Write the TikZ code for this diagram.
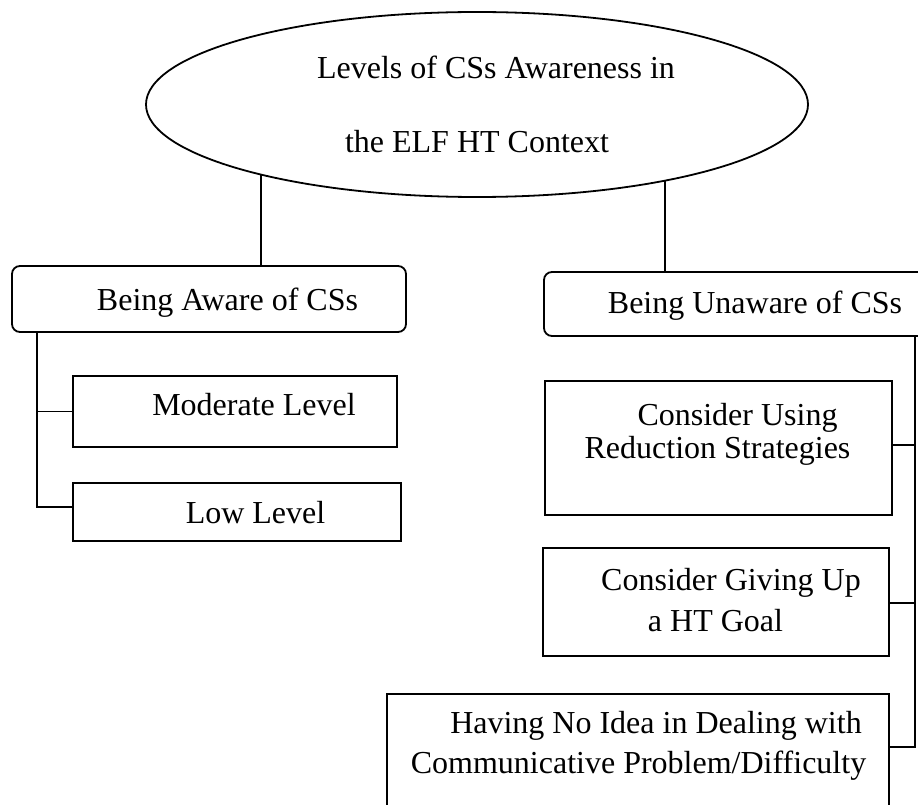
\documentclass[tikz,border=0pt]{standalone}
\usepackage{fontspec}
\setmainfont{Liberation Serif}
\usetikzlibrary{shapes.geometric}
\begin{document}
\begin{tikzpicture}[x=1pt,y=-1pt,
  line width=1.8pt,
  txt/.style={anchor=base,inner sep=0pt,font=\fontsize{32}{33}\selectfont},
  rbox/.style={draw,rectangle,rounded corners=8pt,inner sep=0pt,outer sep=0pt},
  sbox/.style={draw,rectangle,inner sep=0pt,outer sep=0pt},
  conn/.style={draw,line width=1.8pt}]
\clip (0,0) rectangle (918,805);
\fill[white] (0,0) rectangle (918,805);
% top ellipse
\node[draw,ellipse,inner sep=0pt,outer sep=0pt,minimum width=662pt,minimum height=185pt] (top) at (477,104.5) {};
\node[txt] (top1) at (496,79) {Levels of CSs Awareness in};
\node[txt] (top2) at (477,153) {the ELF HT Context};
% level 2 boxes
\node[rbox,minimum width=394pt,minimum height=66pt] (aware) at (209,299) {};
\node[txt] (awaret) at (227.5,310) {Being Aware of CSs};
\node[rbox,minimum width=400pt,minimum height=64pt] (unaware) at (744,304) {};
\node[txt] (unawaret) at (755,313) {Being Unaware of CSs};
% left children
\node[sbox,minimum width=324pt,minimum height=71pt] (moderate) at (235,411.5) {};
\node[txt] (moderatet) at (254,415) {Moderate Level};
\node[sbox,minimum width=328pt,minimum height=58pt] (low) at (237,512) {};
\node[txt] (lowt) at (255.5,523) {Low Level};
% right children
\node[sbox,minimum width=347pt,minimum height=134pt] (cu) at (718.5,448) {};
\node[txt] (cu1) at (737.5,425) {Consider Using};
\node[txt] (cu2) at (717.5,458) {Reduction Strategies};
\node[sbox,minimum width=346pt,minimum height=108pt] (gu) at (716,602) {};
\node[txt] (gu1) at (731,590) {Consider Giving Up};
\node[txt] (gu2) at (715.5,631) {a HT Goal};
\node[sbox,minimum width=502pt,minimum height=150pt] (ni) at (638,769) {};
\node[txt] (ni1) at (656,733) {Having No Idea in Dealing with};
\node[txt] (ni2) at (638.5,773) {Communicative Problem/Difficulty};
% connectors from ellipse
\draw[conn] (top.198.23) -- (top.198.23 |- aware.north);
\draw[conn] (top.338.64) -- (top.338.64 |- unaware.north);
% left tree
\coordinate (LT) at (37,332);
\draw[conn] (LT) |- ([yshift=5pt]low.west);
\draw[conn] (moderate.west) -- (moderate.west -| LT);
% right tree
\coordinate (RT) at (915,336);
\coordinate (RB) at (915,747);
\draw[conn] (RT) -- (RB) -- (RB -| ni.east);
\draw[conn] ([yshift=3pt]cu.east) -- ([yshift=3pt]cu.east -| RT);
\draw[conn] ([yshift=-1pt]gu.east) -- ([yshift=-1pt]gu.east -| RT);
\end{tikzpicture}
\end{document}
